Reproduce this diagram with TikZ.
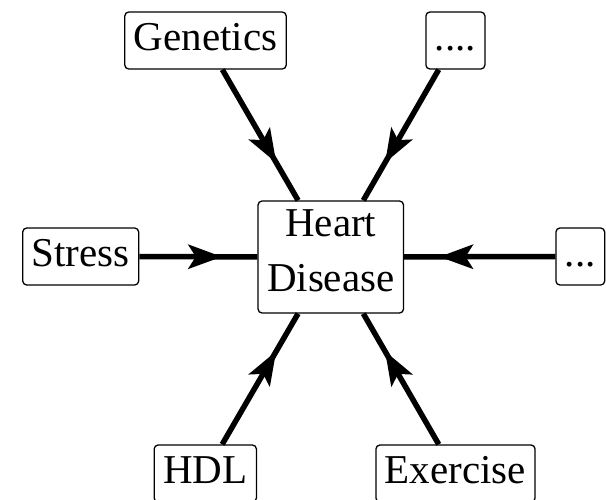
\documentclass[tikz,border=0pt]{standalone}
\usepackage{fontspec}
\setmainfont{Liberation Serif}
\usetikzlibrary{calc,decorations.markings}
\begin{document}
\begin{tikzpicture}[x=1pt,y=-1pt,
  box/.style={draw, line width=1.3pt, rounded corners=4pt, inner xsep=9pt, inner ysep=9pt,
    text height=29pt, text depth=10pt, font=\fontsize{41}{55}\selectfont},
  hdbox/.style={draw, line width=1.3pt, rounded corners=4pt, inner xsep=9pt, inner ysep=0pt,
    minimum height=112pt, align=center, font=\fontsize{41}{55}\selectfont},
  link/.style={line width=5.5pt},
  midhead/.style={decoration={markings, mark=at position 0.5 with {
      \fill (16pt,0pt) -- (-18pt,12.5pt) -- (-10pt,0pt) -- (-18pt,-12.5pt) -- cycle;}},
    postaction={decorate}}]
\useasboundingbox (0,0) rectangle (606,499);
\node[hdbox] (hd) at (330.8,257) {Heart\\Disease\rule[-12pt]{0pt}{12pt}};
\node[box] (gen) at (205.5,40.5) {Genetics};
\node[box] (dots4) at (455.4,40.5) {....};
\node[box] (stress) at (80.7,256.5) {Stress};
\node[box] (dots3) at (580.3,256.5) {...};
\node[box] (hdl) at (205.3,473.5) {HDL};
\node[box] (ex) at (455.5,473.5) {Exercise};
\foreach \n in {gen,dots4,stress,dots3,hdl,ex}{
  \draw[link] (\n) -- (hd);
  \path[midhead] (\n.center) -- (hd.center);
}
\end{tikzpicture}
\end{document}
